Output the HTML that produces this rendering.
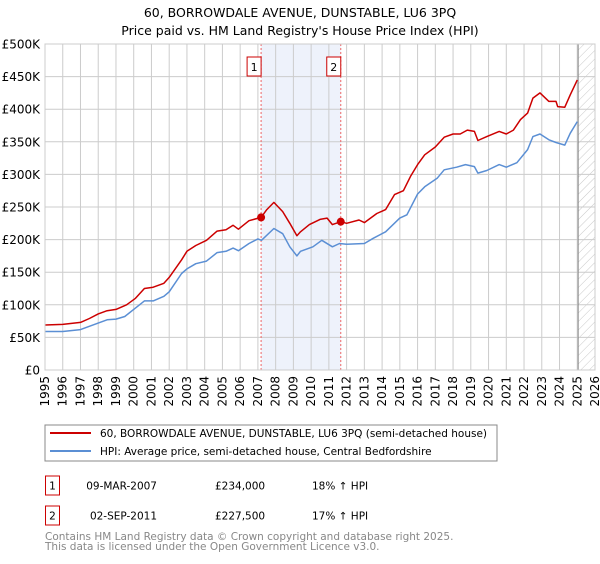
<!DOCTYPE html>
<html><head><meta charset="utf-8"><style>
body{margin:0;background:#fff;font-family:"DejaVu Sans","Liberation Sans",sans-serif;}
svg text{font-family:"DejaVu Sans","Liberation Sans",sans-serif;}
</style></head><body>
<svg id="c" width="600" height="560" xmlns="http://www.w3.org/2000/svg">
<defs><pattern id="hatch" width="6" height="6" patternUnits="userSpaceOnUse" patternTransform="rotate(45)"><line x1="0" y1="0" x2="0" y2="6" stroke="#bbb" stroke-width="0.8"/></pattern></defs>
<text x="300" y="17" text-anchor="middle" font-size="12.5">60, BORROWDALE AVENUE, DUNSTABLE, LU6 3PQ</text>
<text x="300" y="35" text-anchor="middle" font-size="12.5">Price paid vs. HM Land Registry's House Price Index (HPI)</text>
<g id="plot"></g>
<rect x="45" y="425" width="452" height="36" fill="#fff" stroke="#888"/>
<line x1="50" y1="433" x2="91" y2="433" stroke="#cc0000" stroke-width="2"/>
<text x="100" y="437" font-size="10.5">60, BORROWDALE AVENUE, DUNSTABLE, LU6 3PQ (semi-detached house)</text>
<line x1="50" y1="451" x2="91" y2="451" stroke="#5b8fd4" stroke-width="2"/>
<text x="100" y="455" font-size="10.5">HPI: Average price, semi-detached house, Central Bedfordshire</text>
<g>
<rect x="45.5" y="476" width="14" height="19" fill="#fff" stroke="#cc0000"/>
<text x="52.5" y="489.5" text-anchor="middle" font-size="10.5">1</text>
<text x="157" y="489.5" text-anchor="end" font-size="10.5">09-MAR-2007</text>
<text x="215" y="489.5" font-size="10.5">£234,000</text>
<text x="312" y="489.5" font-size="10.5">18% ↑ HPI</text></g>
<g>
<rect x="45.5" y="506" width="14" height="19" fill="#fff" stroke="#cc0000"/>
<text x="52.5" y="519.5" text-anchor="middle" font-size="10.5">2</text>
<text x="157" y="519.5" text-anchor="end" font-size="10.5">02-SEP-2011</text>
<text x="215" y="519.5" font-size="10.5">£227,500</text>
<text x="312" y="519.5" font-size="10.5">17% ↑ HPI</text></g>
<text x="45" y="540" font-size="10.5" fill="#888">Contains HM Land Registry data © Crown copyright and database right 2025.</text>
<text x="45" y="550" font-size="10.5" fill="#888">This data is licensed under the Open Government Licence v3.0.</text>
</svg>
<script>
const yTicks=[0,50,100,150,200,250,300,350,400,450,500];
const yTickLabels=["£0","£50K","£100K","£150K","£200K","£250K","£300K","£350K","£400K","£450K","£500K"];
const years=[1995,1996,1997,1998,1999,2000,2001,2002,2003,2004,2005,2006,2007,2008,2009,2010,2011,2012,2013,2014,2015,2016,2017,2018,2019,2020,2021,2022,2023,2024,2025,2026];
const redT=[1995.0,1996.0,1997.0,1997.5,1998.0,1998.5,1999.0,1999.6,2000.1,2000.6,2001.1,2001.7,2002.0,2002.7,2003.0,2003.5,2004.1,2004.7,2005.2,2005.6,2005.9,2006.5,2007.18,2007.5,2007.9,2008.4,2008.8,2009.2,2009.4,2009.9,2010.5,2010.9,2011.2,2011.67,2012.0,2012.7,2013.0,2013.7,2014.2,2014.7,2015.2,2015.6,2016.0,2016.4,2017.0,2017.5,2018.0,2018.4,2018.8,2019.2,2019.4,2019.9,2020.6,2021.0,2021.4,2021.8,2022.2,2022.5,2022.9,2023.4,2023.8,2023.9,2024.3,2024.6,2025.0];
const redV=[69,70,73,79,86,91,93,100,110,125,127,133,142,169,182,191,199,213,215,222,216,229,234,246,257,243,225,206,212,223,231,233,223,227.5,225,230,226,240,246,269,275,297,315,330,342,357,362,362,368,366,352,358,366,362,368,384,394,417,425,412,412,404,403,422,445];
const blueT=[1995,1996,1997,1998,1998.5,1999,1999.5,2000,2000.6,2001.1,2001.7,2002,2002.7,2003,2003.5,2004.1,2004.7,2005.2,2005.6,2005.9,2006.5,2007.0,2007.2,2007.9,2008.4,2008.8,2009.2,2009.4,2010.1,2010.6,2011.2,2011.6,2012.0,2013.0,2013.5,2014.2,2015.0,2015.4,2016.0,2016.4,2017.1,2017.5,2018.2,2018.7,2019.2,2019.4,2019.9,2020.6,2021.0,2021.6,2022.2,2022.5,2022.9,2023.4,2023.8,2024.3,2024.6,2025.0];
const blueV=[59,59,62,72,77,78,82,93,106,106,113,120,148,155,163,167,180,182,187,183,194,201,199,217,209,189,175,182,189,199,189,194,193,194,202,212,233,238,270,281,294,307,311,315,312,302,306,315,311,318,338,358,362,353,349,345,363,381];
const saleT=[2007.18,2011.67];
const saleV=[234,227.5];
const saleLabels=["1","2"];
const X0=45,X1=595,Y0=370,Y1=44;
const x=t=>X0+(t-1995)/(2026-1995)*(X1-X0);
const y=v=>Y0-v/500*(Y0-Y1);
const NS="http://www.w3.org/2000/svg";
const g=document.getElementById('plot');
function mk(tag,at){const e=document.createElementNS(NS,tag);for(const k in at)e.setAttribute(k,at[k]);g.appendChild(e);return e;}
let e=mk('rect',{x:x(saleT[0]),y:Y1,width:x(saleT[1])-x(saleT[0]),height:Y0-Y1,fill:'#eef2fb'});


e=mk('rect',{x:x(2025.05),y:Y1,width:X1-x(2025.05),height:Y0-Y1,fill:'url(#hatch)'});


years.forEach(yr=>{
 e=mk('line',{x1:x(yr),x2:x(yr),y1:Y1,y2:Y0,stroke:'#ccc','stroke-width':1});
 
 
 e=mk('text',{transform:`translate(${x(yr)+4},376) rotate(-90)`,'text-anchor':'end','font-size':12});
 e.textContent=yr;
 
 
});
yTicks.forEach((v,i)=>{
 e=mk('line',{x1:X0,x2:X1,y1:y(v),y2:y(v),stroke:'#ccc','stroke-width':1});
 
 
 e=mk('text',{x:40,y:y(v)+4.5,'text-anchor':'end','font-size':12});
 e.textContent=yTickLabels[i];
 
 
});
e=mk('line',{x1:x(2025.05),x2:x(2025.05),y1:Y1,y2:Y0,stroke:'#888','stroke-width':1});


saleT.forEach((t,i)=>{
 e=mk('line',{x1:x(t),x2:x(t),y1:Y1,y2:Y0,stroke:'#e66','stroke-width':1,'stroke-dasharray':'2,2'});
 
 
 e=mk('rect',{x:x(t)-14,y:57,width:14,height:19,fill:'#fff',stroke:'#cc0000'});
 
 
 e=mk('text',{x:x(t)-7,y:71,'text-anchor':'middle','font-size':11});
 e.textContent=saleLabels[i];
 
 
});
const path=(T,V)=>T.map((t,i)=>(i?'L':'M')+x(t).toFixed(1)+','+y(V[i]).toFixed(1)).join('');
e=mk('path',{d:path(blueT,blueV),fill:'none',stroke:'#5b8fd4','stroke-width':1.5,'stroke-linejoin':'round'});


e=mk('path',{d:path(redT,redV),fill:'none',stroke:'#cc0000','stroke-width':1.5,'stroke-linejoin':'round'});


saleT.forEach((t,i)=>{
 e=mk('circle',{cx:x(t),cy:y(saleV[i]),r:4,fill:'#cc0000'});
 
 
});
e=mk('rect',{x:X0,y:Y1,width:X1-X0,height:Y0-Y1,fill:'none',stroke:'#ccc'});


</script>
</body></html>
